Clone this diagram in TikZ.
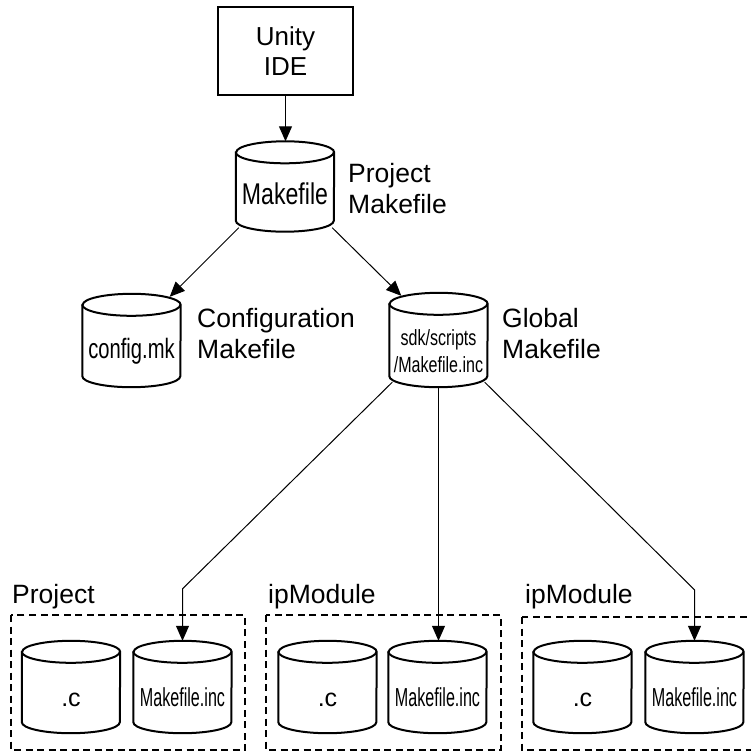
\documentclass[tikz,border=0pt]{standalone}
\usepackage{fontspec}
\setmainfont{Liberation Sans}
\usetikzlibrary{arrows.meta,calc}
\tikzset{
  cyl/.style={minimum width=98pt, minimum height=92pt, inner sep=0pt, draw=none},
  conn/.style={line width=1pt, -{Triangle[length=15pt,width=13pt]}},
  lbl/.style={anchor=base west, inner sep=0pt, font=\fontsize{26.5}{31}\selectfont},
  grp/.style={draw, line width=1.4pt, dash pattern=on 7pt off 4.5pt},
  ctext/.style={anchor=base, inner sep=0pt},
  boxnode/.style={draw, line width=2pt, minimum width=135pt, minimum height=88pt,
    align=center, inner sep=0pt, font=\fontsize{26}{30}\selectfont},
}
\newcommand\cylshape[1]{%
  \draw[line width=2pt] ([yshift=-11pt]#1.north west) -- ([yshift=11pt]#1.south west)
    arc[start angle=180,end angle=360,x radius=49pt,y radius=11pt]
    -- ([yshift=-11pt]#1.north east)
    arc[start angle=0,end angle=180,x radius=49pt,y radius=11pt] -- cycle;
  \draw[line width=2pt] ([yshift=-11pt]#1.north west)
    arc[start angle=180,end angle=360,x radius=49pt,y radius=11pt];
}
\begin{document}
\begin{tikzpicture}[x=1pt,y=-1pt]
\useasboundingbox (0,0) rectangle (751,752);

% top box
\node[boxnode] (ide) at (285.5,51) {Unity\\IDE};

% cylinders
\node[cyl, minimum height=90pt] (mk) at (285,186.5) {};
\node[cyl, minimum height=93pt] (cfg) at (131.5,340.5) {};
\node[cyl, minimum height=94pt] (sdk) at (438.5,340) {};
\node[cyl] (p1c) at (71,687) {};
\node[cyl] (p1m) at (182.5,687) {};
\node[cyl] (p2c) at (327.5,687) {};
\node[cyl] (p2m) at (437.5,687) {};
\node[cyl] (p3c) at (582.5,687) {};
\node[cyl] (p3m) at (694.5,687) {};
\foreach \n in {mk,cfg,sdk,p1c,p1m,p2c,p2m,p3c,p3m}{\cylshape{\n}}

% cylinder texts
\node[ctext] (mkt) at (285,204) {\fontsize{30}{30}\selectfont\scalebox{0.77}[1]{Makefile}};
\node[ctext] (cfgt) at (131.5,358) {\fontsize{28}{28}\selectfont\scalebox{0.72}[1]{config.mk}};
\node[ctext] (sdkt1) at (438.5,345) {\fontsize{22}{22}\selectfont\scalebox{0.73}[1]{sdk/scripts}};
\node[ctext] (sdkt2) at (438.5,372) {\fontsize{22}{22}\selectfont\scalebox{0.73}[1]{/Makefile.inc}};
\foreach \n/\x in {p1/71,p2/327.5,p3/582.5}{
  \node[ctext] (\n ct) at (\x,706) {\fontsize{25}{25}\selectfont .c};
}
\foreach \n/\x in {p1/182.5,p2/437.5,p3/694.5}{
  \node[ctext] (\n mt) at (\x,706) {\fontsize{26}{26}\selectfont\scalebox{0.62}[1]{Makefile.inc}};
}

% side labels
\node[lbl] (pm1) at (348,182) {Project};
\node[lbl] (pm2) at (348,213) {Makefile};
\node[lbl] (cm1) at (197,327) {Configuration};
\node[lbl] (cm2) at (197,358) {Makefile};
\node[lbl] (gm1) at (502,327) {Global};
\node[lbl] (gm2) at (502,358) {Makefile};

% groups
\draw[grp] (11,615) rectangle (245,750);
\draw[grp] (266,615) rectangle (501,750);
\draw[grp] (522,617) rectangle (760,750);
\node[lbl] (g1) at (12,603) {Project};
\node[lbl] (g2) at (268,603) {ipModule};
\node[lbl] (g3) at (525,603) {ipModule};

% connectors
\draw[conn] (ide.south) -- (ide.south |- mk.north);
\draw[conn] ([shift={(3,-4)}]mk.south west) -- ([shift={(-11,3)}]cfg.north east);
\draw[conn] ([shift={(-2,-4)}]mk.south east) -- ([shift={(12,3)}]sdk.north west);

\coordinate (eL) at ([yshift=52pt]p1m.north);
\coordinate (eR) at ([yshift=51pt]p3m.north);
\draw[conn] ([shift={(3,-5)}]sdk.south west) -- (eL) -- (p1m.north);
\draw[conn] (sdk.south) -- (sdk.south |- p2m.north);
\draw[conn] ([shift={(-3,-5)}]sdk.south east) -- (eR) -- (p3m.north);
\end{tikzpicture}
\end{document}
